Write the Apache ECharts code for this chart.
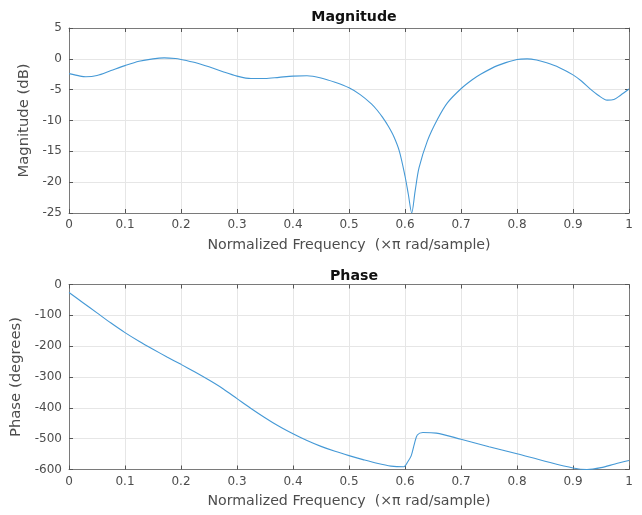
<!DOCTYPE html>
<html><head><meta charset="utf-8">
<script src="https://cdn.jsdelivr.net/npm/echarts@6/dist/echarts.min.js"></script>
<style>html,body{margin:0;padding:0;background:#fff}#c{width:642px;height:515px}</style>
</head><body><div id="c"></div>
<script>
var magFreq = [0,0.02,0.03,0.05,0.075,0.1,0.125,0.15,0.17,0.19,0.2,0.225,0.25,0.275,0.3,0.325,0.35,0.375,0.4,0.425,0.45,0.475,0.5,0.52,0.54,0.55,0.56,0.57,0.58,0.59,0.6,0.606,0.612,0.618,0.625,0.64,0.658,0.676,0.7,0.72,0.735,0.765,0.8,0.818,0.835,0.853,0.875,0.9,0.915,0.931,0.945,0.961,0.973,0.985,1.0];
var magDb = [-2.4,-2.8,-2.9,-2.7,-1.9,-1.1,-0.4,0.0,0.15,0.05,-0.1,-0.6,-1.3,-2.1,-2.8,-3.2,-3.2,-3.0,-2.8,-2.75,-3.1,-3.8,-4.7,-5.8,-7.3,-8.3,-9.5,-10.9,-12.6,-15.0,-19.0,-22.0,-25,-21.5,-17.7,-13.3,-9.8,-7.1,-4.85,-3.4,-2.5,-1.1,-0.1,0.0,-0.2,-0.65,-1.4,-2.6,-3.6,-4.9,-5.9,-6.7,-6.6,-5.9,-4.9];
var phaseFreq = [0,0.025,0.05,0.075,0.1,0.125,0.15,0.175,0.2,0.225,0.25,0.275,0.3,0.325,0.35,0.375,0.4,0.425,0.45,0.475,0.5,0.525,0.55,0.575,0.598,0.605,0.611,0.617,0.622,0.632,0.656,0.7,0.75,0.8,0.85,0.9,0.925,0.95,0.975,1.0];
var phaseDeg = [-26,-59,-92,-125,-156,-184,-210,-235,-259,-284,-310,-338,-370,-402,-432,-460,-484,-506,-525,-541,-555,-568,-580,-589,-591,-575,-556,-515,-488,-480,-482,-502,-526,-549,-573,-595,-600,-594,-582,-571];

function pairs(xs, ys){ return xs.map(function(x,i){return [x, ys[i]];}); }

var FONT = 'DejaVu Sans';
var txt = '#4d4d4d';
var frameCol = '#7a7a7a';
var gridCol = '#e6e6e6';

function xAx(gi, show){
  return {type:'value', gridIndex:gi, min:0, max:1, interval:0.1, position: show?'bottom':'top',
    name: show ? 'Normalized Frequency  (\u00d7\u03c0 rad/sample)' : '', nameLocation:'middle', nameGap:25,
    nameTextStyle:{color:txt, fontFamily:FONT, fontSize:14.2},
    axisLine:{show:true, onZero:false, lineStyle:{color:frameCol}},
    axisTick:{show:true, inside:true, length:4, lineStyle:{color:'#555'}},
    axisLabel:{show:show, color:txt, fontFamily:FONT, fontSize:12, margin:6, formatter:function(v){return String(+v.toFixed(1));}},
    splitLine:{show:show, lineStyle:{color:gridCol, width:1}}};
}
function yAx(gi, mn, mx, iv, name, gap, show){
  return {type:'value', gridIndex:gi, min:mn, max:mx, interval:iv, position: show?'left':'right',
    name: show?name:'', nameLocation:'middle', nameGap:gap, nameRotate:90,
    nameTextStyle:{color:txt, fontFamily:FONT, fontSize:14.8},
    axisLine:{show:true, onZero:false, lineStyle:{color:frameCol}},
    axisTick:{show:true, inside:true, length:4, lineStyle:{color:'#555'}},
    axisLabel:{show:show, color:txt, fontFamily:FONT, fontSize:12, margin:7},
    splitLine:{show:show, lineStyle:{color:gridCol, width:1}}};
}

var chart = echarts.init(document.getElementById('c'), null, {renderer:'canvas'});
chart.setOption({
  animation:false,
  backgroundColor:'#fff',
  title:[
    {text:'Magnitude', left:349, top:5, textAlign:'center', textStyle:{fontFamily:FONT, fontSize:14.2, fontWeight:'bold', color:'#111'}},
    {text:'Phase', left:349, top:264, textAlign:'center', textStyle:{fontFamily:FONT, fontSize:14.2, fontWeight:'bold', color:'#111'}}
  ],
  grid:[
    {left:69, right:13, top:28, height:185},
    {left:69, right:13, top:284.5, height:185}
  ],
  xAxis:[xAx(0,true), xAx(0,false), xAx(1,true), xAx(1,false)],
  yAxis:[
    yAx(0,-25,5,5,'Magnitude (dB)',27,true), yAx(0,-25,5,5,'',0,false),
    yAx(1,-600,0,100,'Phase (degrees)',40,true), yAx(1,-600,0,100,'',0,false)
  ],
  series:[
    {type:'line', xAxisIndex:0, yAxisIndex:0, data:pairs(magFreq, magDb), smooth:0.3, showSymbol:false, clip:true,
      lineStyle:{color:'#4599d6', width:1.1}},
    {type:'line', xAxisIndex:2, yAxisIndex:2, data:pairs(phaseFreq, phaseDeg), smooth:0.3, showSymbol:false, clip:true,
      lineStyle:{color:'#4599d6', width:1.1}}
  ]
});
</script></body></html>
